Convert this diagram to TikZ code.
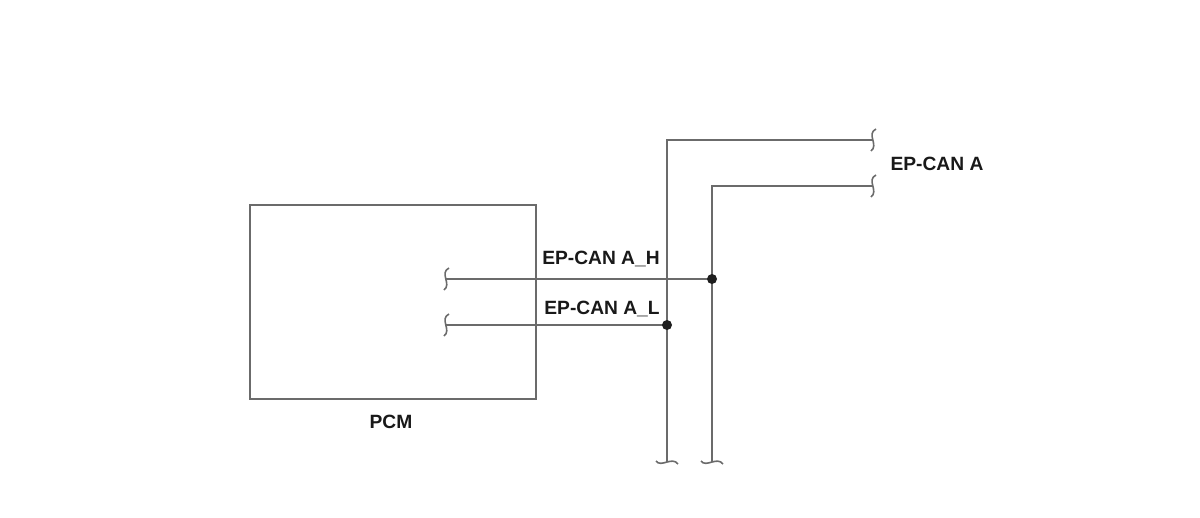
\documentclass[tikz,border=0pt]{standalone}
\usepackage{fontspec}
\setmainfont{Liberation Sans}
\begin{document}
\begin{tikzpicture}[x=1pt,y=-1pt,
  wire/.style={draw=black!58,line width=1.6pt},
  brk/.style={draw=black!58,line width=1.6pt},
  junc/.style={circle,fill=black!88,inner sep=0pt,minimum size=10pt},
  lbl/.style={font=\bfseries\fontsize{19.2}{22}\selectfont,text=black!90,inner sep=0pt}]
\useasboundingbox (0,0) rectangle (1200,517);
% PCM box
\node[draw=black!58,line width=1.6pt,minimum width=286pt,minimum height=194pt,inner sep=0pt] (pcm) at (393,302) {};
\node[lbl] (pcmlbl) at (391,422) {PCM};
% coordinates
\coordinate (hl) at (446,279);
\coordinate (ll) at (446,325);
\coordinate (jhc) at (712,279);
\coordinate (jlc) at (667,325);
\coordinate (lc) at (667,140);
\coordinate (hc) at (712,186);
\coordinate (lr) at (873,140);
\coordinate (hr) at (873,186);
\coordinate (lb) at (667,462);
\coordinate (hb) at (712,462);
% wires
\draw[wire] (hl) -- (jhc);
\draw[wire] (ll) -- (jlc);
\draw[wire] (lb) -- (lc) -- (lr);
\draw[wire] (hb) -- (hc) -- (hr);
% junction dots
\node[junc] (jh) at (jhc) {};
\node[junc] (jl) at (jlc) {};
% break marks
\foreach \p in {hl,ll,lr,hr}{
  \draw[brk] ([shift={(3,-11)}]\p) .. controls ([shift={(-7,-6)}]\p) and ([shift={(6,5)}]\p) .. ([shift={(-2,11)}]\p);
}
\foreach \p in {lb,hb}{
  \draw[brk] ([shift={(-11,-1)}]\p) .. controls ([shift={(-6,6)}]\p) and ([shift={(5,-6)}]\p) .. ([shift={(11,2)}]\p);
}
% labels
\node[lbl] (hlbl) at (601,259) {EP-CAN A\_H};
\node[lbl] (llbl) at (602,309) {EP-CAN A\_L};
\node[lbl] (canlbl) at (937,164) {EP-CAN A};
\end{tikzpicture}
\end{document}
